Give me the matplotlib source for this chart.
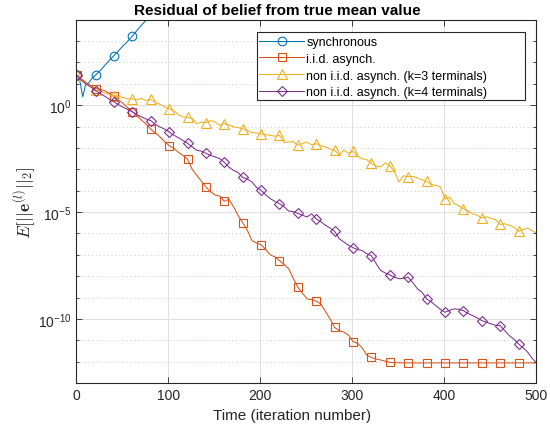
import numpy as np
import matplotlib
matplotlib.use("Agg")
import matplotlib.pyplot as plt
from matplotlib.patches import Rectangle
from matplotlib.ticker import FixedLocator, FuncFormatter, NullFormatter

plt.rcParams['font.family'] = ['Liberation Sans', 'DejaVu Sans']
plt.rcParams['mathtext.fontset'] = 'custom'
plt.rcParams['mathtext.rm'] = 'Liberation Sans'
plt.rcParams['mathtext.it'] = 'Liberation Sans:italic'
plt.rcParams['mathtext.bf'] = 'Liberation Sans:bold'

# ---- data (log10 of the residual) ----
sync_t = [1, 4, 7, 10, 13, 17, 21, 26, 31, 36, 41, 46, 51, 56, 61, 66, 71, 76, 81, 86, 91]
sync_log = [1.39, 1.10, 0.39, 0.94, 1.02, 1.25, 1.41, 1.62, 1.86, 2.10, 2.32, 2.55, 2.78,
            3.00, 3.23, 3.50, 3.75, 3.98, 4.30, 4.55, 4.80]

iid_t = list(range(1, 347, 5)) + [361, 381, 401, 421, 441, 461, 481, 500]
iid_log = [1.39, 1.22, 1.05, 0.92, 0.78, 0.74, 0.68, 0.55, 0.42, 0.25,
           0.08, -0.12, -0.30, -0.48, -0.70, -0.88, -1.12, -1.30, -1.48, -1.70,
           -1.89, -2.02, -2.20, -2.35, -2.53, -3.00, -3.28, -3.55, -3.83, -4.05,
           -4.20, -4.25, -4.50, -4.40, -4.75, -5.16, -5.50, -5.85, -6.33, -6.45,
           -6.53, -6.75, -7.00, -7.10, -7.27, -7.45, -7.65, -8.10, -8.52, -8.80,
           -9.06, -9.10, -9.17, -9.30, -9.65, -10.00, -10.40, -10.55, -10.62, -10.75,
           -11.06, -11.15, -11.35, -11.70, -11.80, -11.88, -11.92, -11.98, -12.03, -12.05,
           -12.06, -12.06, -12.06, -12.06, -12.06, -12.06, -12.06, -12.06]

k3_t = list(range(1, 497, 5)) + [500]
k3_log = [1.39, 1.15, 0.98, 0.85, 0.72, 0.65, 0.58, 0.50, 0.45, 0.40,
          0.36, 0.30, 0.30, 0.25, 0.32, 0.22, 0.28, 0.12, 0.05, -0.08,
          -0.17, -0.25, -0.45, -0.55, -0.57, -0.62, -0.86, -0.80, -0.81, -0.72,
          -0.78, -0.95, -0.86, -0.92, -1.01, -1.05, -1.10, -1.18, -1.28, -1.30,
          -1.34, -1.38, -1.41, -1.45, -1.41, -1.75, -1.72, -1.70, -1.88, -1.80,
          -1.72, -1.85, -1.80, -1.90, -1.95, -2.05, -2.11, -2.34, -2.10, -2.25,
          -2.16, -2.40, -2.50, -2.55, -2.72, -2.85, -2.89, -2.70, -2.83, -3.10,
          -3.59, -3.30, -3.35, -3.33, -3.40, -3.50, -3.56, -3.72, -3.75, -3.83,
          -4.40, -4.30, -4.60, -4.70, -4.85, -4.95, -5.08, -5.15, -5.28, -5.22,
          -5.30, -5.35, -5.58, -5.55, -5.62, -5.70, -5.90, -5.82, -5.75, -5.88,
          -5.97]

k4_t = list(range(1, 497, 5)) + [500]
k4_log = [1.39, 1.15, 0.98, 0.85, 0.68, 0.55, 0.42, 0.28, 0.16, 0.02,
          -0.10, -0.20, -0.31, -0.45, -0.55, -0.65, -0.72, -0.90, -1.02, -1.12,
          -1.25, -1.40, -1.52, -1.65, -1.78, -1.95, -2.11, -2.15, -2.25, -2.35,
          -2.42, -2.50, -2.67, -2.90, -3.05, -3.15, -3.38, -3.45, -3.59, -3.85,
          -3.98, -4.20, -4.37, -4.50, -4.61, -4.75, -4.95, -4.98, -5.06, -5.15,
          -5.23, -5.08, -5.32, -5.45, -5.62, -5.75, -5.90, -6.25, -6.40, -6.55,
          -6.67, -6.75, -6.80, -6.95, -7.05, -7.40, -7.73, -7.85, -7.94, -8.05,
          -8.12, -8.10, -8.05, -8.30, -8.59, -8.75, -9.06, -9.20, -9.38, -9.55,
          -9.69, -9.60, -9.53, -9.55, -9.61, -9.75, -9.84, -9.95, -10.08, -10.15,
          -10.23, -10.30, -10.31, -10.55, -10.78, -10.95, -11.17, -11.35, -11.56, -11.85,
          -12.03]

series = [
    ('synchronous', sync_t, sync_log, '#0072BD', 'o'),
    ('i.i.d. asynch.', iid_t, iid_log, '#D95319', 's'),
    ('non i.i.d. asynch. (k=3 terminals)', k3_t, k3_log, '#EDB120', '^'),
    ('non i.i.d. asynch. (k=4 terminals)', k4_t, k4_log, '#7E2F8E', 'D'),
]
marker_t = list(range(1, 501, 20))
msize = {'o': 6.2, 's': 5.2, '^': 6.5, 'D': 5.0}

fig = plt.figure(figsize=(5.5, 4.35), dpi=100)
ax = fig.add_axes([0.1387, 0.1172, 0.8358, 0.8352])

for name, t, lg, col, mk in series:
    t = np.array(t)
    vals = 10.0 ** np.array(lg)
    idx = list(np.where(np.isin(t, marker_t))[0])
    ax.plot(t, vals, color=col, lw=0.75, marker=mk, markevery=idx,
            markersize=msize[mk], markerfacecolor='none', markeredgewidth=0.8,
            label=name)

ax.set_yscale('log')
ax.set_xlim(0, 500)
ax.set_ylim(1e-13, 1e4)
ax.set_xticks([0, 100, 200, 300, 400, 500])
ax.yaxis.set_major_locator(FixedLocator([1e-10, 1e-5, 1e0]))
ax.yaxis.set_major_formatter(FuncFormatter(lambda v, p: r'$10^{%d}$' % round(np.log10(v))))
ax.yaxis.set_minor_locator(FixedLocator([10.0 ** k for k in range(-13, 5)]))
ax.yaxis.set_minor_formatter(NullFormatter())

ax.tick_params(which='both', direction='in', top=True, right=True, colors='#262626',
               labelsize=10, width=0.6)
ax.tick_params(which='major', length=4)
ax.tick_params(which='minor', length=2.5)
for s in ax.spines.values():
    s.set_color('#262626')
    s.set_linewidth(0.8)

ax.grid(True, which='major', color='#e0e0e0', lw=0.7, ls='-')
ax.grid(True, which='minor', axis='y', color='#c8c8c8', lw=0.7, ls=(0, (1, 3)))
ax.set_axisbelow(True)

ax.set_title('Residual of belief from true mean value', fontsize=11,
             fontweight='bold', pad=4, x=0.4366)
ax.set_xlabel('Time (iteration number)', fontsize=11, color='#262626', labelpad=2)
ax.xaxis.set_label_coords(0.470, -0.07)
ax.set_ylabel(r'$E[||\mathbf{e}^{(l)}||_2]$', fontsize=12.5, color='#262626',
              math_fontfamily='cm', labelpad=0)

# legend box (MATLAB style, with extra room on the right)
ax.add_patch(Rectangle((0.393, 0.779), 0.583, 0.187, transform=ax.transAxes,
                       facecolor='white', edgecolor='#262626', lw=0.8, zorder=4))
leg = ax.legend(loc='upper left', fontsize=9, frameon=False, handlelength=3.6,
                borderpad=0.2, labelspacing=0.38, handletextpad=0.15,
                borderaxespad=0, bbox_to_anchor=(0.393, 0.962))
leg.set_zorder(5)

fig.savefig('out.png', dpi=100)
